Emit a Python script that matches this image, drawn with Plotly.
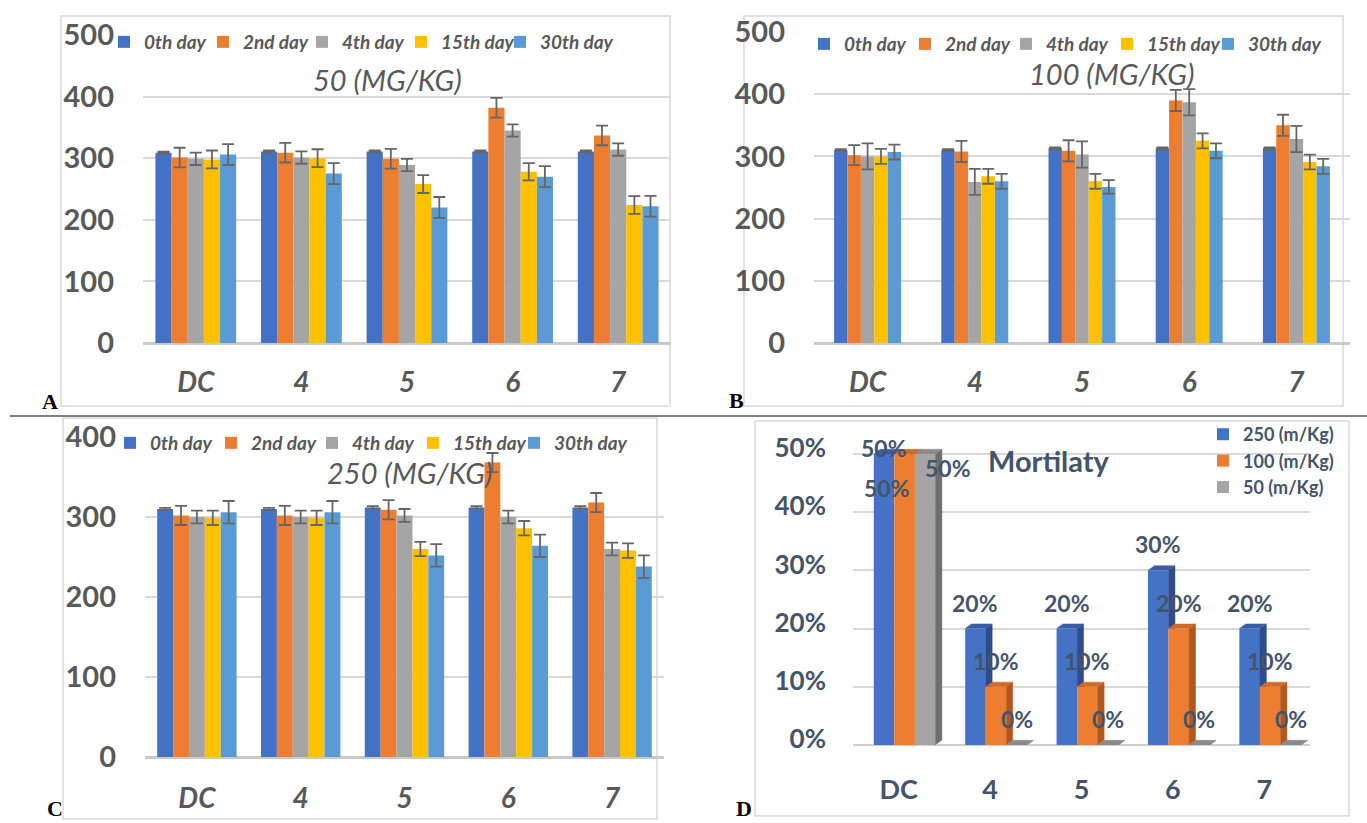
import plotly.graph_objects as go

W, H = 1367, 823

# ---------------------------------------------------------------- data
groups = ["DC", "4", "5", "6", "7"]
days = ["0th day", "2nd day", "4th day", "15th day", "30th day"]
day_colors = ["#4472C4", "#ED7D31", "#A5A5A5", "#FFC000", "#5B9BD5"]

# 50 mg/kg : one row per day, one value per group
dose50_mean = [
    [309, 311, 311, 311, 311],
    [301, 309, 299, 382, 337],
    [299, 301, 289, 345, 314],
    [298, 300, 258, 278, 224],
    [306, 275, 220, 270, 222],
]
dose50_err = [
    [1.5, 1.5, 1.5, 1.5, 1.5],
    [16, 16, 16, 16, 16],
    [10, 10, 10, 10, 10],
    [14.5, 14.5, 14.5, 14, 14.5],
    [17, 17, 17, 17, 17],
]

# 100 mg/kg
dose100_mean = [
    [310, 310, 313, 313, 313],
    [302, 308, 309, 390, 350],
    [300, 259, 303, 387, 328],
    [300, 268, 260, 325, 291],
    [307, 260, 251, 309, 284],
]
dose100_err = [
    [1.5, 1.5, 1.5, 1.5, 1.5],
    [16, 17, 17, 17, 17],
    [21, 21, 21, 21, 21],
    [12, 12, 12, 12, 12],
    [12, 12, 11, 12, 12],
]

# 250 mg/kg
dose250_mean = [
    [310, 310, 312, 312, 312],
    [302, 302, 309, 368, 318],
    [300, 300, 302, 300, 260],
    [299, 299, 260, 286, 258],
    [306, 306, 252, 264, 238],
]
dose250_err = [
    [1.5, 1.5, 1.5, 1.5, 1.5],
    [12, 12, 12, 12, 12],
    [8, 8, 8, 8, 8],
    [9, 9, 9, 9, 9],
    [14, 14, 14, 14, 14],
]

# mortality (%)
mort_names = ["250 (m/Kg)", "100 (m/Kg)", "50 (m/Kg)"]
mort_250 = [50, 20, 20, 30, 20]
mort_100 = [50, 10, 10, 20, 10]
mort_50 = [50, 0, 0, 0, 0]
mort_ticks = [0, 10, 20, 30, 40, 50]

# ---------------------------------------------------------------- style
FONT = "Lato"
TXT = "#595959"
SLATE = "#44546A"
GRID = "#D9D9D9"
FRAME = "#D9D9D9"


def px(x):
    return x / W


def py(y):
    return 1 - y / H


fig = go.Figure()


def day_bars(means, errs, xa, ya, leg, frac):
    w = frac / len(days)
    for k in range(len(days)):
        fig.add_trace(go.Bar(
            x=groups, y=means[k], name=days[k],
            width=w, offset=-frac / 2 + k * w,
            marker=dict(color=day_colors[k], line=dict(width=0)),
            error_y=dict(type="data", array=errs[k], visible=True,
                         color="#666666", thickness=1.8, width=6),
            xaxis=xa, yaxis=ya, legend=leg, hoverinfo="skip",
        ))
    # transparent trailing entry so the last legend label keeps its full width
    fig.add_trace(go.Bar(x=[groups[0]], y=[0], name=" ", width=0.01,
                         marker=dict(color="rgba(0,0,0,0)", line=dict(width=0)),
                         xaxis=xa, yaxis=ya, legend=leg, showlegend=True, hoverinfo="skip"))


day_bars(dose50_mean, dose50_err, "x", "y", "legend", 0.765)
day_bars(dose100_mean, dose100_err, "x2", "y2", "legend2", 0.625)
day_bars(dose250_mean, dose250_err, "x3", "y3", "legend3", 0.765)

# ---------------------------------------------------------------- 3-D style mortality columns
mort_values = [mort_250, mort_100, mort_50]
front_cols = ["#4472C4", "#ED7D31", "#A5A5A5"]
side_cols = ["#2E4C8C", "#B3571D", "#6E6E6E"]
top_cols = ["#3A5DA6", "#CF6A28", "#8A8A8A"]
col_w = 0.225
col_pos = [-0.16, 0.065, 0.29]
depth_x = 0.07
depth_y = 0.8

for k, vals in enumerate(mort_values):
    fig.add_trace(go.Bar(
        x=list(range(len(groups))), y=vals, name=mort_names[k],
        width=col_w, offset=col_pos[k] - col_w / 2,
        marker=dict(color=front_cols[k], line=dict(width=0)),
        xaxis="x4", yaxis="y4", legend="legend4", hoverinfo="skip",
    ))
    nxt = mort_values[k + 1] if k + 1 < len(mort_values) else None
    sx, sy, tx, ty = [], [], [], []
    for i, v in enumerate(vals):
        xl = i + col_pos[k] - col_w / 2
        xr = xl + col_w
        lo = nxt[i] if nxt is not None else 0
        # right-hand face, minus the part hidden by the neighbouring column
        if lo <= 0:
            pts = [(xr, 0), (xr, v), (xr + depth_x, v + depth_y), (xr + depth_x, depth_y)]
        elif lo <= v:
            pts = [(xr, lo), (xr, v), (xr + depth_x, v + depth_y), (xr + depth_x, lo)]
        elif lo < v + depth_y:
            xs = xr + (lo - v) / depth_y * depth_x
            pts = [(xs, lo), (xr + depth_x, v + depth_y), (xr + depth_x, lo)]
        else:
            pts = []
        for p in pts:
            sx.append(p[0]); sy.append(p[1])
        if pts:
            sx.append(None); sy.append(None)
        # top face
        for p in [(xl, v), (xl + depth_x, v + depth_y), (xr + depth_x, v + depth_y), (xr, v)]:
            tx.append(p[0]); ty.append(p[1])
        tx.append(None); ty.append(None)
    fig.add_trace(go.Scatter(x=sx, y=sy, mode="lines", fill="toself", fillcolor=side_cols[k],
                             line=dict(color=side_cols[k], width=0.5), showlegend=False,
                             xaxis="x4", yaxis="y4", hoverinfo="skip"))
    fig.add_trace(go.Scatter(x=tx, y=ty, mode="lines", fill="toself", fillcolor=top_cols[k],
                             line=dict(color=top_cols[k], width=0.5), showlegend=False,
                             xaxis="x4", yaxis="y4", hoverinfo="skip"))

# value labels on the mortality columns
label_shift = {(0, 0): (0, 6), (1, 0): (-18, -34), (2, 0): (23, -14)}
annotations = []
for k, vals in enumerate(mort_values):
    for i, v in enumerate(vals):
        dx, dy = label_shift.get((k, i), (0, 26))
        annotations.append(dict(
            x=i + col_pos[k], y=v, xref="x4", yref="y4", text=f"{v}%", showarrow=False,
            xshift=dx, yshift=dy,
            font=dict(family=FONT, size=23, color=SLATE, weight="bold"),
        ))

# ---------------------------------------------------------------- axes
def cat_xaxis(x0, x1, anchor, standoff):
    return dict(domain=[px(x0), px(x1)], anchor=anchor, type="category",
                range=[-0.5, 4.5], showgrid=False, zeroline=False, showline=False,
                ticks="", ticklabelstandoff=standoff, automargin=False,
                tickfont=dict(family=FONT, size=28, color=TXT, weight="bold", style="italic"))


def val_yaxis(y0_px, ytop_px, top, anchor):
    return dict(domain=[py(y0_px), py(ytop_px)], anchor=anchor, range=[0, top],
                tickvals=list(range(0, top + 1, 100)), showgrid=True, gridcolor=GRID,
                gridwidth=1.5, zeroline=True, zerolinecolor="#C9C9C9", zerolinewidth=2.5,
                showline=False, ticks="", ticklabelstandoff=28, automargin=False,
                tickfont=dict(family=FONT, size=29, color=TXT, weight="bold"))


layout_axes = dict(
    xaxis=cat_xaxis(143, 671, "y", 20),
    yaxis=val_yaxis(343, 35, 500, "x"),
    xaxis2=cat_xaxis(814, 1350, "y2", 20),
    yaxis2=val_yaxis(343, 32, 500, "x2"),
    xaxis3=cat_xaxis(145, 664, "y3", 22),
    yaxis3=val_yaxis(757, 437, 400, "x3"),
    xaxis4=dict(domain=[px(853), px(1310)], anchor="y4", range=[-0.5, 4.5],
                tickvals=list(range(len(groups))), ticktext=groups, showgrid=False,
                zeroline=False, showline=False, ticks="", ticklabelstandoff=26,
                automargin=False,
                tickfont=dict(family=FONT, size=27, color=SLATE, weight="bold")),
    yaxis4=dict(domain=[py(745), py(424.9)], anchor="x4", range=[0, 55],
                tickvals=mort_ticks, ticktext=[f"{t}%" for t in mort_ticks], showgrid=True,
                gridcolor=GRID, gridwidth=1.5, zeroline=True, zerolinecolor="#CFCFCF",
                zerolinewidth=2, showline=False, ticks="", ticklabelstandoff=26,
                ticklabelshift=-6, automargin=False,
                tickfont=dict(family=FONT, size=26, color=SLATE, weight="bold")),
)


def day_legend(x_px, y_px, entry_w):
    return dict(orientation="h", x=px(x_px), y=py(y_px), xanchor="left", yanchor="middle",
                font=dict(family=FONT, size=19, color=TXT, weight="bold", style="italic"),
                bgcolor="rgba(0,0,0,0)", itemwidth=30, tracegroupgap=0, entrywidth=entry_w,
                itemclick=False, itemdoubleclick=False)


# ---------------------------------------------------------------- titles and panel letters
def title(text, x_px, y_px, size, color, bold=False, italic=False):
    f = dict(family=FONT, size=size, color=color)
    if bold:
        f["weight"] = "bold"
    if italic:
        f["style"] = "italic"
    return dict(x=px(x_px), y=py(y_px), xref="paper", yref="paper", text=text,
                showarrow=False, xanchor="center", yanchor="middle", font=f)


annotations += [
    title("50 (MG/KG)", 387, 79, 29, TXT, italic=True),
    title("100 (MG/KG)", 1112, 73, 29, TXT, italic=True),
    title("250 (MG/KG)", 410, 472, 29, TXT, italic=True),
    title("Mortilaty", 1049, 461, 29, SLATE, bold=True),
]
for letter, lx, ly in [("A", 50, 401), ("B", 736, 400), ("C", 55, 808), ("D", 744, 808)]:
    annotations.append(dict(x=px(lx), y=py(ly), xref="paper", yref="paper", text=letter,
                            showarrow=False, xanchor="center", yanchor="middle",
                            font=dict(family="Liberation Serif", size=22, color="black",
                                      weight="bold")))

# panel frames and the divider between the two rows
shapes = []
for x0, y0, x1, y1 in [(61, 16, 670, 406), (744, 16, 1343, 406),
                       (63, 418, 657, 819), (755, 421, 1349, 816)]:
    shapes.append(dict(type="rect", xref="paper", yref="paper", x0=px(x0), x1=px(x1),
                       y0=py(y1), y1=py(y0), line=dict(color=FRAME, width=1.5),
                       layer="below"))
shapes.append(dict(type="line", xref="paper", yref="paper", x0=px(10), x1=1,
                   y0=py(416), y1=py(416), line=dict(color="#808080", width=2)))

fig.update_layout(
    width=W, height=H, margin=dict(l=0, r=0, t=0, b=0, autoexpand=False),
    paper_bgcolor="white", plot_bgcolor="rgba(0,0,0,0)",
    showlegend=True,
    legend=day_legend(104, 42, 54),
    legend2=day_legend(804, 44, 56),
    legend3=day_legend(110, 443, 56),
    legend4=dict(orientation="v", x=px(1203), y=py(416), xanchor="left", yanchor="top",
                 font=dict(family=FONT, size=18, color=SLATE, weight="bold"),
                 bgcolor="rgba(0,0,0,0)", itemwidth=30, tracegroupgap=0,
                 itemclick=False, itemdoubleclick=False),
    annotations=annotations,
    shapes=shapes,
    **layout_axes,
)

fig.write_html("out.html", post_script="document.body.style.margin='0';")
